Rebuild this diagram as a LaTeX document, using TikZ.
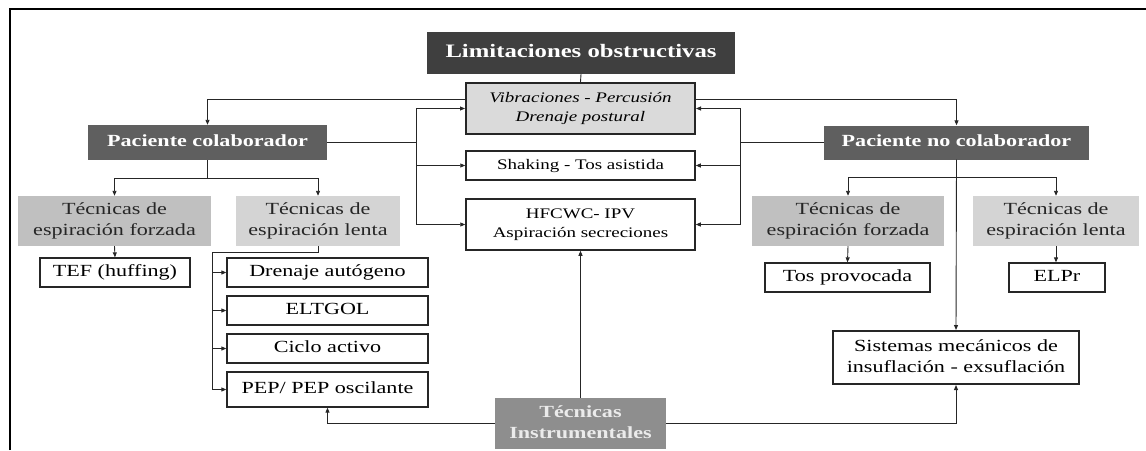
\documentclass[tikz,border=0pt]{standalone}
\usepackage{fontspec}
\usepackage{graphicx}
\setmainfont{Liberation Serif}
\usetikzlibrary{arrows.meta}
\definecolor{hdark}{HTML}{3F3F3F}
\definecolor{hmid}{HTML}{5F5F5F}
\definecolor{hti}{HTML}{8E8E8E}
\definecolor{forz}{HTML}{C0C0C0}
\definecolor{lent}{HTML}{D4D4D4}
\definecolor{vibf}{HTML}{DADADA}
\newcommand\hs[1]{\scalebox{1.3}[1]{\begin{tabular}{@{}c@{}}#1\end{tabular}}}
\tikzset{
  base/.style={inner sep=0pt, font=\fontsize{17}{21}\selectfont},
  hdr/.style={base, fill=hmid, text=white, font=\fontsize{17}{21}\selectfont\bfseries},
  forzbox/.style={base, fill=forz, text=black!85},
  lentbox/.style={base, fill=lent, text=black!85},
  wbox/.style={base, draw=black!85, line width=1.3pt, fill=white},
  cbox/.style={base, draw=black!85, line width=1.5pt, fill=white, font=\fontsize{14.6}{19}\selectfont},
  ln/.style={line width=0.9pt, draw=black!85},
  arr/.style={ln, -{Triangle[length=5pt,width=4pt]}},
}
\begin{document}
\begin{tikzpicture}[x=1pt,y=-1pt]
\useasboundingbox (0,0) rectangle (1146,450);
\draw[line width=2.2pt] (10,450) -- (10,9) -- (1146,9);

% top
\node[hdr, fill=hdark, minimum width=308pt, minimum height=42pt, font=\fontsize{19}{23}\selectfont\bfseries] (lim) at (581,53) {\hs{Limitaciones obstructivas}};
\node[cbox, fill=vibf, line width=2pt, minimum width=229pt, minimum height=51pt, font=\fontsize{14.6}{19}\selectfont\itshape] (vib) at (580.5,108.5) {\hs{Vibraciones - Percusión\\Drenaje postural}};
\node[cbox, minimum width=229pt, minimum height=29pt] (shk) at (580.5,165.5) {\hs{Shaking - Tos asistida}};
\node[cbox, minimum width=229pt, minimum height=51pt] (hfc) at (580.5,224.5) {\hs{HFCWC- IPV\\Aspiración secreciones}};

% patients
\node[hdr, minimum width=239pt, minimum height=35pt] (pc) at (207.5,142.5) {\hs{Paciente colaborador}};
\node[hdr, minimum width=265pt, minimum height=34pt] (pnc) at (956.5,142.5) {\hs{Paciente no colaborador}};

% left branch
\node[forzbox, minimum width=193pt, minimum height=50pt] (lf) at (114.5,221) {\hs{Técnicas de\\espiración forzada}};
\node[lentbox, minimum width=164pt, minimum height=50pt] (ll) at (318,221) {\hs{Técnicas de\\espiración lenta}};
\node[wbox, minimum width=150pt, minimum height=29pt] (tef) at (115,272.5) {\hs{TEF (huffing)}};
\node[wbox, minimum width=201pt, minimum height=29pt] (da) at (327.5,272.5) {\hs{Drenaje autógeno}};
\node[wbox, minimum width=201pt, minimum height=29pt] (elt) at (327.5,310.5) {\hs{ELTGOL}};
\node[wbox, minimum width=201pt, minimum height=29pt] (cic) at (327.5,348.5) {\hs{Ciclo activo}};
\node[wbox, minimum width=201pt, minimum height=35pt] (pep) at (327.5,389.5) {\hs{PEP/ PEP oscilante}};

% right branch
\node[forzbox, minimum width=192pt, minimum height=50pt] (rf) at (848,221) {\hs{Técnicas de\\espiración forzada}};
\node[lentbox, minimum width=166pt, minimum height=50pt] (rl) at (1056,221) {\hs{Técnicas de\\espiración lenta}};
\node[wbox, minimum width=165pt, minimum height=29pt] (tos) at (847.5,277.5) {\hs{Tos provocada}};
\node[wbox, minimum width=96pt, minimum height=29pt] (elpr) at (1057,277.5) {\hs{ELPr}};
\node[wbox, line width=2pt, minimum width=246pt, minimum height=53pt] (sis) at (956,357.5) {\hs{Sistemas mecánicos de\\insuflación - exsuflación}};

% instrumental
\node[hdr, fill=hti, minimum width=171pt, minimum height=51pt, text=white!92!black] (ti) at (580.5,423.5) {\hs{Técnicas\\Instrumentales}};

% connectors top
\draw[ln] (lim.south) -- (vib.north);
\draw[arr] ([yshift=-17pt]vib.north west) -| (pc.north);
\draw[arr] ([yshift=-17pt]vib.north east) -| (pnc.north);

% buses to central boxes
\coordinate (lb) at (416,142.5);
\coordinate (rb) at (740,142.5);
\draw[ln] (pc.east) -- (lb);
\draw[ln] (pnc.west) -- (rb);
\draw[arr] (lb) |- (vib.west);
\draw[arr] (lb) |- (shk.west);
\draw[arr] (lb) |- (hfc.west);
\draw[arr] (rb) |- (vib.east);
\draw[arr] (rb) |- (shk.east);
\draw[arr] (rb) |- (hfc.east);

% left tree
\draw[arr] (pc.south) -- ++(0,18) -| (lf.north);
\draw[arr] (pc.south) -- ++(0,18) -| (ll.north);
\draw[arr] (lf.south) -- (tef.north);
\coordinate (lt) at (212,252);
\coordinate (lbot) at (212,389.5);
\draw[ln] (ll.south) |- (lt) -- (lbot);
\draw[arr] (lt |- da.west) -- (da.west);
\draw[arr] (lt |- elt.west) -- (elt.west);
\draw[arr] (lt |- cic.west) -- (cic.west);
\draw[arr] (lbot) -- (pep.west);

% right tree
\draw[arr] (pnc.south) -- ++(0,18) -| (rf.north);
\draw[arr] (pnc.south) -- ++(0,18) -| (rl.north);
\draw[arr] (pnc.south) -- (sis.north);
\draw[arr] (rf.south) -- (tos.north);
\draw[arr] (rl.south) -- (rl.south |- elpr.north);

% instrumental
\draw[arr] (ti.north) -- (hfc.south);
\draw[arr] (ti.west) -| (pep.south);
\draw[arr] (ti.east) -| (sis.south);
\end{tikzpicture}
\end{document}
